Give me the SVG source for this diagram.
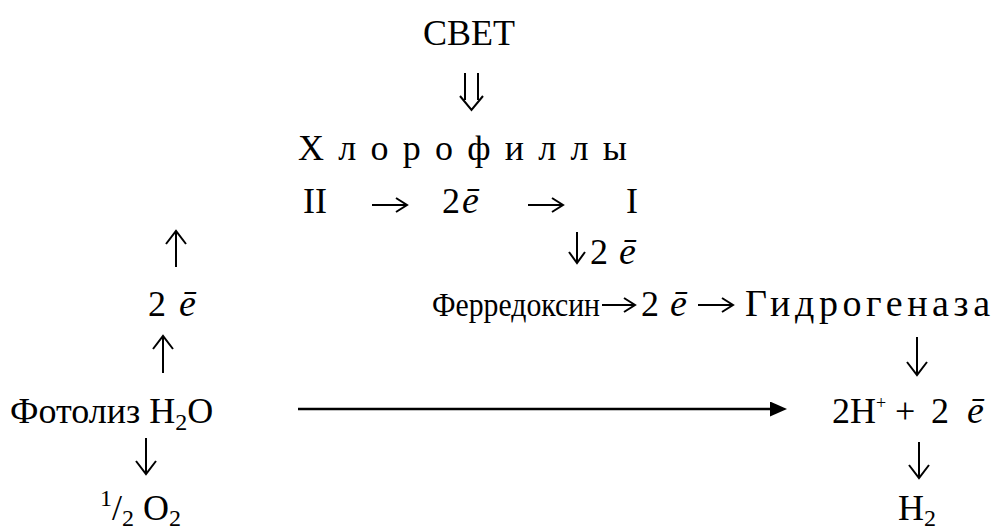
<svg xmlns="http://www.w3.org/2000/svg" width="1000" height="530" viewBox="0 0 1000 530">
<style>
text { font-family: "Liberation Serif", "Times New Roman", serif; font-size: 36px; fill: #000; }
text.fd { font-size: 33px; }
text.hg { font-size: 38px; }
.e { font-style: italic; font-size: 38px; }
.sm { font-size: 24px; }
.arr { fill: none; stroke: #000; stroke-width: 2; stroke-linecap: butt; stroke-linejoin: miter; }
.long { fill: none; stroke: #000; stroke-width: 2.5; }
</style>
<defs>
<marker id="tri" markerUnits="userSpaceOnUse" markerWidth="17" markerHeight="15" refX="1" refY="7.5" orient="auto"><path d="M0,0 L17,7.5 L0,15 Z" fill="#000"/></marker>
</defs>
<rect width="1000" height="530" fill="#fff"/>
<g id="svet"><text x="469" y="45" text-anchor="middle">СВЕТ</text></g>
<g id="chlorophyll"><text x="298" y="160" textLength="329" lengthAdjust="spacing">Х л о р о ф и л л ы</text></g>
<g id="ps2"><text x="303" y="213">II</text></g>
<g id="e-row1"><text x="442" y="213">2<tspan class="e" dx="2">ē</tspan></text></g>
<g id="ps1"><text x="626" y="213">I</text></g>
<g id="e-down"><text x="590" y="264">2<tspan class="e" x="619">ē</tspan></text></g>
<g id="e-left"><text x="148" y="316">2<tspan class="e" x="179">ē</tspan></text></g>
<g id="ferredoxin"><text class="fd" x="432" y="316" textLength="168" lengthAdjust="spacingAndGlyphs">Ферредоксин</text></g>
<g id="e-mid"><text x="641" y="316">2<tspan class="e" x="670">ē</tspan></text></g>
<g id="hydrogenase"><text class="hg" x="745" y="316" textLength="245" lengthAdjust="spacing">Гидрогеназа</text></g>
<g id="photolysis"><text x="10" y="423">Фотолиз H<tspan dy="7" class="sm">2</tspan><tspan dy="-7">O</tspan></text></g>
<g id="protons"><text x="832" y="423">2H<tspan dy="-14" font-size="18">+</tspan><tspan dy="14" x="895">+</tspan><tspan x="931">2</tspan><tspan class="e" x="967">ē</tspan></text></g>
<g id="oxygen"><text x="100" y="520"><tspan dy="-14" class="sm">1</tspan><tspan dy="14">/</tspan><tspan dy="6" class="sm">2</tspan><tspan dy="-6"> O</tspan><tspan dy="6" class="sm">2</tspan></text></g>
<g id="hydrogen"><text x="898" y="520">H<tspan dy="6" class="sm">2</tspan></text></g>
<g id="connectors">
<path class="arr" d="M465,73 V100 M478,73 V100 M460,96 L471.5,110 L483,96"/>
<path class="arr" d="M372,205 H406 M396,198 L407,205 L396,212"/>
<path class="arr" d="M528,205 H562 M552,198 L563,205 L552,212"/>
<path class="arr" d="M577,232 V262 M569,252 L577,263 L585,252"/>
<path class="arr" d="M176,231 V267 M166,244 L176,231 L186,244"/>
<path class="arr" d="M163,336 V373 M153,349 L163,336 L173,349"/>
<path class="arr" d="M917,337 V374 M907,362 L917,375 L927,362"/>
<path class="arr" d="M919,442 V477 M909,465 L919,478 L929,465"/>
<path class="arr" d="M146,438 V473 M136,461 L146,474 L156,461"/>
<path class="arr" d="M602,305 H634 M624,298 L635,305 L624,312"/>
<path class="arr" d="M698,305 H732 M722,298 L733,305 L722,312"/>
<path class="long" d="M298,409 H771" marker-end="url(#tri)"/>
</g>
</svg>
